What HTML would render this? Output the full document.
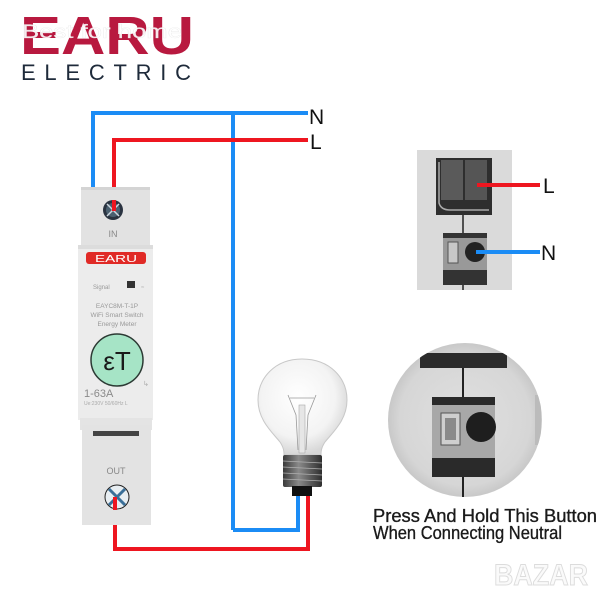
<!DOCTYPE html>
<html><head><meta charset="utf-8"><style>
html,body{margin:0;padding:0;background:#fff;}
svg{display:block;}
</style></head><body>
<svg width="600" height="600" viewBox="0 0 600 600" xmlns="http://www.w3.org/2000/svg">
<defs>
<radialGradient id="bulbG" cx="0.45" cy="0.4" r="0.6">
<stop offset="0" stop-color="#ffffff"/>
<stop offset="0.7" stop-color="#f3f3f3"/>
<stop offset="1" stop-color="#d6d6d6"/>
</radialGradient>
<linearGradient id="baseG" x1="0" x2="1">
<stop offset="0" stop-color="#3a3a3a"/>
<stop offset="0.4" stop-color="#8a8a8a"/>
<stop offset="1" stop-color="#2e2e2e"/>
</linearGradient>
<radialGradient id="circG" cx="0.5" cy="0.5" r="0.5">
<stop offset="0" stop-color="#e0e0e0"/>
<stop offset="0.85" stop-color="#d6d6d6"/>
<stop offset="1" stop-color="#c8c8c8"/>
</radialGradient>
</defs>

<!-- Logo -->
<text x="20" y="54" font-family="Liberation Sans, sans-serif" font-weight="bold" font-size="54" fill="#b8193f" textLength="174" lengthAdjust="spacingAndGlyphs">EARU</text>
<text x="22" y="38" font-family="Liberation Sans, sans-serif" font-size="19" fill="#ffffff" fill-opacity="0.9" stroke="#e6e6e6" stroke-width="0.3" textLength="160" lengthAdjust="spacingAndGlyphs">Best for home</text>
<text x="21" y="80" font-family="Liberation Sans, sans-serif" font-size="22" fill="#1e2a3a" textLength="170" lengthAdjust="spacing">ELECTRIC</text>

<!-- Wires N / L top -->
<polyline points="93,188 93,113 308,113" fill="none" stroke="#1b8cf5" stroke-width="4"/>
<line x1="233" y1="113" x2="233" y2="530" stroke="#1b8cf5" stroke-width="4"/>
<polyline points="233,530 298,530 298,496" fill="none" stroke="#1b8cf5" stroke-width="4"/>
<polyline points="114,205 114,140 308,140" fill="none" stroke="#ee1620" stroke-width="4"/>
<polyline points="115,500 115,549 308,549 308,496" fill="none" stroke="#ee1620" stroke-width="4"/>
<text x="309" y="124" font-family="Liberation Sans, sans-serif" font-size="21" fill="#111">N</text>
<text x="310" y="149" font-family="Liberation Sans, sans-serif" font-size="21" fill="#111">L</text>

<!-- Device -->
<rect x="81" y="187" width="69" height="60" fill="#e2e2e2"/>
<rect x="81" y="187" width="69" height="3" fill="#d4d4d4"/>
<rect x="78" y="245" width="75" height="175" fill="#ececec"/>
<rect x="78" y="245" width="75" height="4" fill="#dcdcdc"/>
<circle cx="113" cy="210" r="10" fill="#2a3340"/>
<circle cx="113" cy="210" r="7" fill="#4b6070"/>
<line x1="107" y1="204" x2="119" y2="216" stroke="#cfd8e0" stroke-width="1.5"/>
<line x1="119" y1="204" x2="107" y2="216" stroke="#cfd8e0" stroke-width="1.5"/>
<line x1="114" y1="200" x2="114" y2="211" stroke="#ee1620" stroke-width="4"/>
<text x="113" y="237" text-anchor="middle" font-family="Liberation Sans, sans-serif" font-size="9" fill="#888">IN</text>
<rect x="86" y="252" width="60" height="12" rx="3" fill="#e02a26"/>
<text x="116" y="262" text-anchor="middle" font-family="Liberation Sans, sans-serif" font-size="10" fill="#fff" textLength="42" lengthAdjust="spacingAndGlyphs">EARU</text>
<text x="93" y="289" font-family="Liberation Sans, sans-serif" font-size="6" fill="#999">Signal</text>
<rect x="127" y="281" width="8" height="7" fill="#333"/>
<text x="141" y="289" font-family="Liberation Sans, sans-serif" font-size="6" fill="#bbb">≈</text>
<text x="117" y="308" text-anchor="middle" font-family="Liberation Sans, sans-serif" font-size="6.5" fill="#999">EAYC8M-T-1P</text>
<text x="117" y="317" text-anchor="middle" font-family="Liberation Sans, sans-serif" font-size="6.5" fill="#999">WiFi Smart Switch</text>
<text x="117" y="326" text-anchor="middle" font-family="Liberation Sans, sans-serif" font-size="6.5" fill="#999">Energy Meter</text>
<circle cx="117" cy="360" r="26" fill="#a6e4c6" stroke="#2c3a34" stroke-width="1.5"/>
<text x="117" y="370" text-anchor="middle" font-family="Liberation Sans, sans-serif" font-size="26" fill="#1a1a1a">εT</text>
<text x="84" y="397" font-family="Liberation Sans, sans-serif" font-size="11" fill="#8a8a8a">1-63A</text>
<text x="84" y="405" font-family="Liberation Sans, sans-serif" font-size="5" fill="#aaa">Ue:230V 50/60Hz  L</text>
<text x="143" y="386" font-family="Liberation Sans, sans-serif" font-size="7" fill="#aaa">↳</text>
<rect x="80" y="418" width="72" height="12" fill="#e4e4e4"/>
<rect x="82" y="425" width="69" height="100" fill="#e3e3e3"/>
<rect x="93" y="431" width="46" height="5" fill="#444"/>
<text x="116" y="474" text-anchor="middle" font-family="Liberation Sans, sans-serif" font-size="9" fill="#888">OUT</text>
<circle cx="117" cy="497" r="12" fill="#e8eef2" stroke="#222" stroke-width="1"/>
<line x1="109" y1="489" x2="125" y2="505" stroke="#3a6f98" stroke-width="3"/>
<line x1="125" y1="489" x2="109" y2="505" stroke="#3a6f98" stroke-width="3"/>
<line x1="115" y1="497" x2="115" y2="510" stroke="#ee1620" stroke-width="4"/>

<!-- Bulb -->
<path d="M302,359 C275,359 258,378 258,400 C258,420 272,432 280,442 C284,448 284,452 284,455 L321,455 C321,452 321,448 325,442 C333,432 347,420 347,400 C347,378 330,359 302,359 Z" fill="url(#bulbG)" stroke="#c8c8c8" stroke-width="1"/>
<path d="M288,395 L296,415 L298,450 M316,395 L308,415 L306,450 M290,398 L314,398" fill="none" stroke="#9a9a9a" stroke-width="0.8"/>
<rect x="299" y="405" width="6" height="48" fill="#e6e6e6" stroke="#aaa" stroke-width="0.6"/>
<rect x="283" y="455" width="39" height="32" rx="2" fill="url(#baseG)"/>
<path d="M283,461 L322,463 M283,467 L322,469 M283,473 L322,475 M283,479 L322,481" stroke="#b0b0b0" stroke-width="0.8"/>
<rect x="292" y="486" width="20" height="10" fill="#111"/>

<!-- Right top image -->
<rect x="417" y="150" width="95" height="140" fill="#dadada"/>
<rect x="436" y="158" width="56" height="57" fill="#2e2e2e"/>
<rect x="441" y="160" width="22" height="40" fill="#5a5a5a"/>
<rect x="465" y="160" width="22" height="40" fill="#555"/>
<path d="M439,162 L439,203 Q441,210 450,210 L489,210" fill="none" stroke="#aaa" stroke-width="1.5"/>
<line x1="463" y1="215" x2="463" y2="233" stroke="#222" stroke-width="1.5"/>
<rect x="443" y="233" width="44" height="52" fill="#333"/>
<rect x="443" y="238" width="44" height="32" fill="#999"/>
<rect x="448" y="242" width="10" height="21" fill="#c8c8c8" stroke="#555" stroke-width="1"/>
<circle cx="475" cy="252" r="10" fill="#222"/>
<line x1="463" y1="285" x2="463" y2="290" stroke="#222" stroke-width="1.5"/>
<line x1="477" y1="185" x2="540" y2="185" stroke="#ee1620" stroke-width="4"/>
<line x1="476" y1="252" x2="540" y2="252" stroke="#1b8cf5" stroke-width="4"/>
<text x="543" y="193" font-family="Liberation Sans, sans-serif" font-size="21" fill="#111">L</text>
<text x="541" y="260" font-family="Liberation Sans, sans-serif" font-size="21" fill="#111">N</text>

<!-- Magnifier circle -->
<circle cx="465" cy="420" r="77" fill="url(#circG)"/>
<clipPath id="cc"><circle cx="465" cy="420" r="77"/></clipPath>
<g clip-path="url(#cc)">
<rect x="420" y="353" width="87" height="15" fill="#2b2b2b"/>
<rect x="535" y="395" width="6" height="50" fill="#bbb"/>
</g>
<line x1="463" y1="368" x2="463" y2="398" stroke="#222" stroke-width="2"/>
<rect x="432" y="397" width="63" height="80" fill="#2a2a2a"/>
<rect x="432" y="405" width="63" height="53" fill="#a8a8a8"/>
<rect x="441" y="413" width="19" height="32" fill="#cfcfcf" stroke="#555" stroke-width="1"/>
<rect x="445" y="418" width="11" height="22" fill="#8a8a8a"/>
<circle cx="481" cy="427" r="15" fill="#1e1e1e"/>
<line x1="463" y1="477" x2="463" y2="497" stroke="#222" stroke-width="2"/>

<text x="373" y="522" font-family="Liberation Sans, sans-serif" font-size="18" fill="#1a1a1a" stroke="#1a1a1a" stroke-width="0.35" textLength="224" lengthAdjust="spacingAndGlyphs">Press And Hold This Button</text>
<text x="373" y="539" font-family="Liberation Sans, sans-serif" font-size="18" fill="#1a1a1a" stroke="#1a1a1a" stroke-width="0.35" textLength="189" lengthAdjust="spacingAndGlyphs">When Connecting Neutral</text>

<!-- watermark -->
<text x="494" y="585" font-family="Liberation Sans, sans-serif" font-weight="bold" font-size="30" fill="#fafafa" stroke="#dcdcdc" stroke-width="1" textLength="94" lengthAdjust="spacingAndGlyphs">BAZAR</text>
</svg>
</body></html>
